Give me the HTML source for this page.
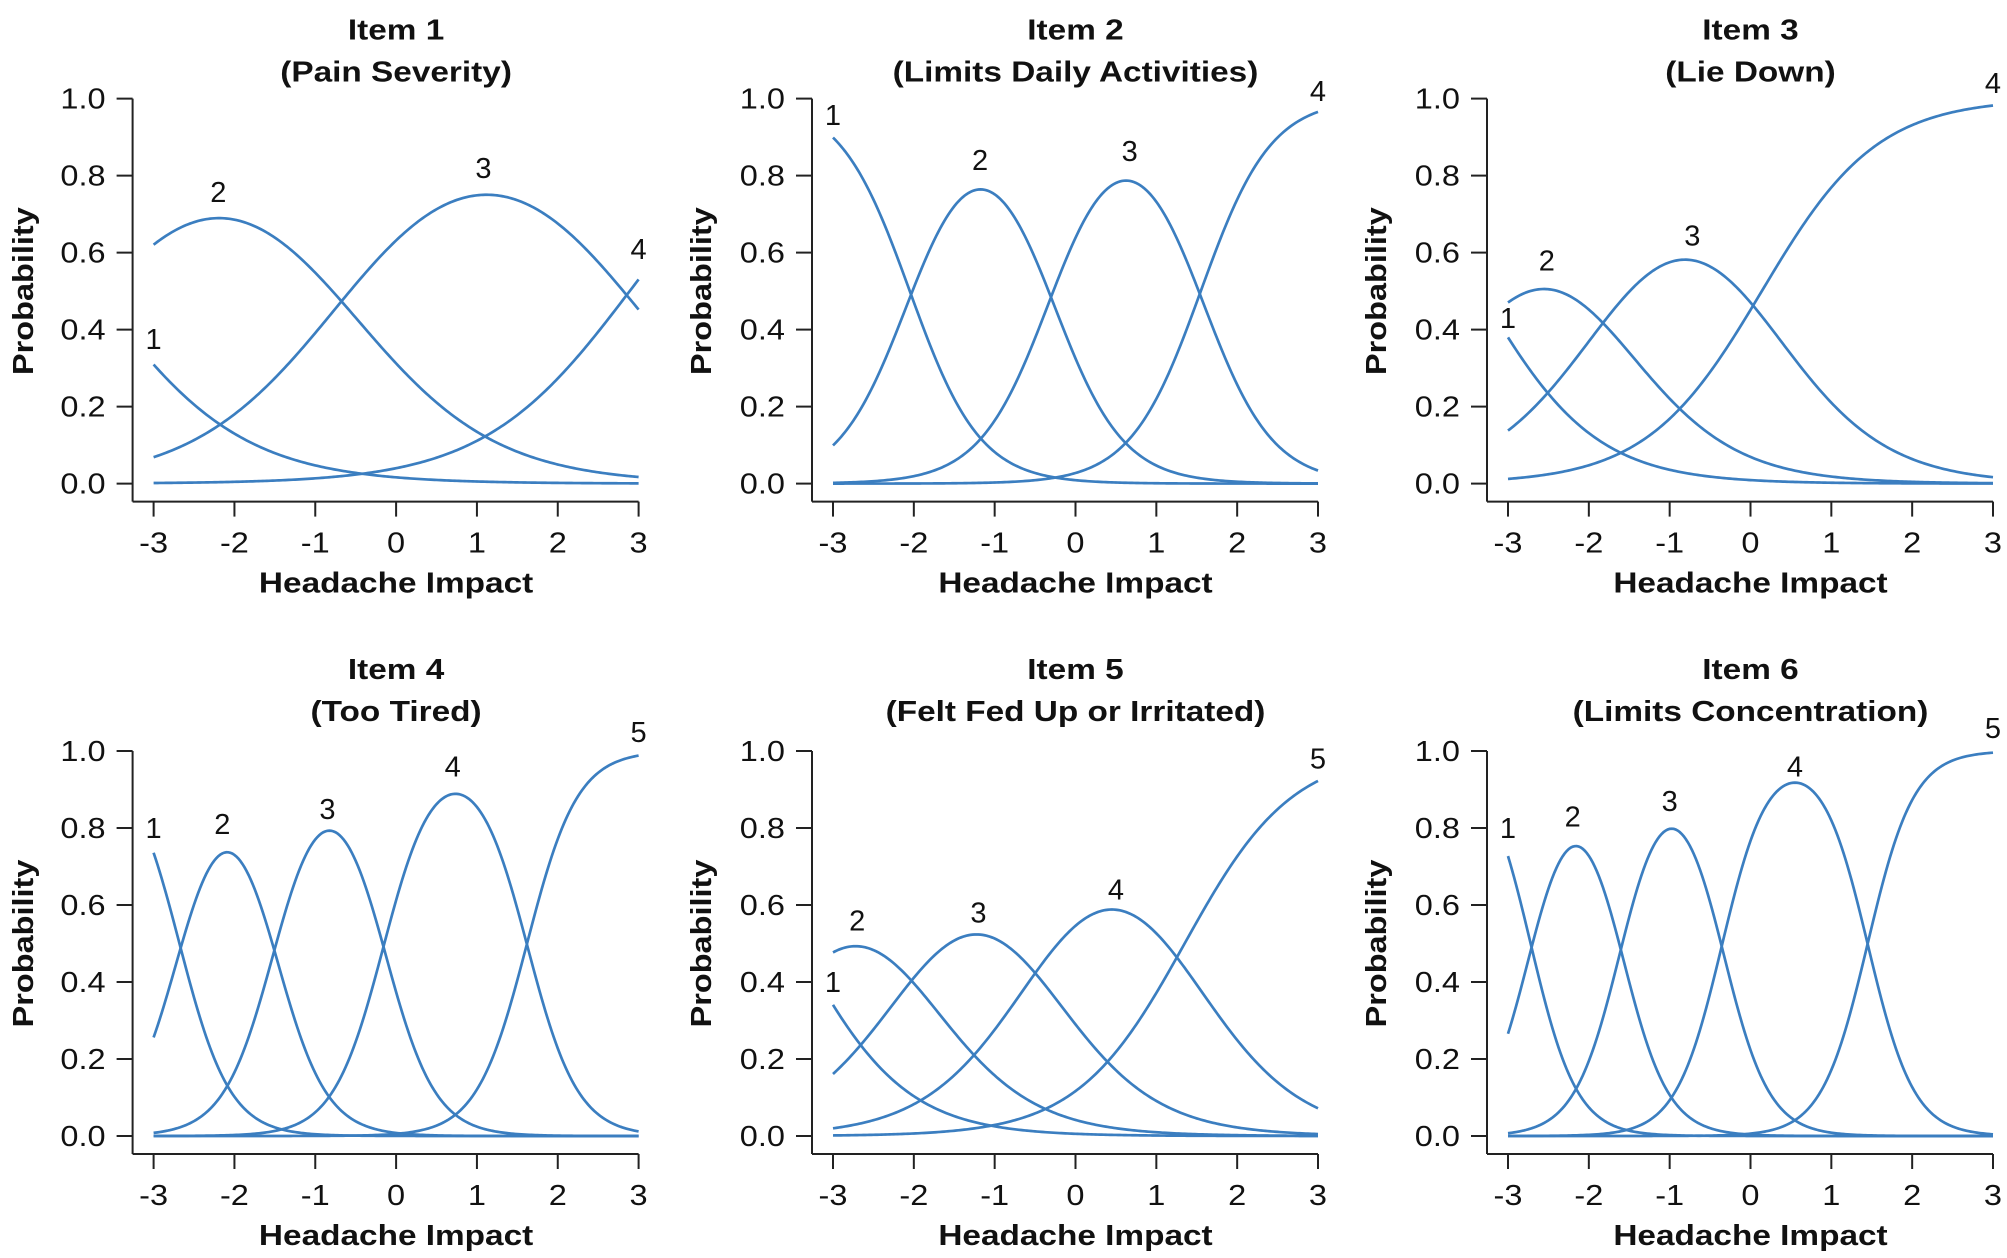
<!DOCTYPE html>
<html><head><meta charset="utf-8">
<style>
html,body{margin:0;padding:0;background:#fff;}
svg{display:block;font-family:"Liberation Sans",Arial,sans-serif;}
</style></head>
<body>
<svg id="chart" width="2007" height="1258" viewBox="0 0 2007 1258" xmlns="http://www.w3.org/2000/svg"></svg>
<script>
// Panel metadata
const itemTitles = ["Item 1","Item 2","Item 3","Item 4","Item 5","Item 6"];
const itemSubtitles = ["(Pain Severity)","(Limits Daily Activities)","(Lie Down)","(Too Tired)","(Felt Fed Up or Irritated)","(Limits Concentration)"];
// Graded response model parameters
const itemDiscrimination = [1.1, 2.3, 1.4, 3.2, 1.5, 3.5];
const item1Thresholds = [-3.73, -0.65, 2.89];
const item2Thresholds = [-2.05, -0.3, 1.55];
const item3Thresholds = [-3.35, -1.76, 0.14];
const item4Thresholds = [-2.68, -1.5, -0.15, 1.62];
const item5Thresholds = [-3.44, -2.0, -0.45, 1.35];
const item6Thresholds = [-2.72, -1.6, -0.35, 1.45];
// Category label positions [theta, probability]
const item1Labels = [[-3,0.375],[-2.2,0.757],[1.08,0.82],[3,0.61]];
const item2Labels = [[-3,0.957],[-1.18,0.84],[0.67,0.864],[3,1.02]];
const item3Labels = [[-3,0.43],[-2.52,0.58],[-0.72,0.645],[3,1.04]];
const item4Labels = [[-3,0.8],[-2.15,0.81],[-0.85,0.85],[0.7,0.96],[3,1.05]];
const item5Labels = [[-3,0.4],[-2.7,0.56],[-1.2,0.58],[0.5,0.64],[3,0.98]];
const item6Labels = [[-3,0.8],[-2.2,0.83],[-1.0,0.87],[0.55,0.96],[3,1.06]];
const xTicks = [-3,-2,-1,0,1,2,3];
const yTicks = [0,0.2,0.4,0.6,0.8,1.0];
const yTickLabels = ["0.0","0.2","0.4","0.6","0.8","1.0"];

const allThresholds = [item1Thresholds,item2Thresholds,item3Thresholds,item4Thresholds,item5Thresholds,item6Thresholds];
const allLabels = [item1Labels,item2Labels,item3Labels,item4Labels,item5Labels,item6Labels];

const NS = "http://www.w3.org/2000/svg";
const svg = document.getElementById("chart");
const colX0 = [153.6, 833, 1508];
const plotW = 485;
const rowY1 = [98.6, 751];
const titleOff = [[-59,-17],[-72,-30]];
const plotH = 385;
const lineColor = "#3b7ec0";
const stretch = [];

function mk(tag, attrs, parent){const e=document.createElementNS(NS,tag);for(const k in attrs)e.setAttribute(k,attrs[k]);parent.appendChild(e);return e;}
function sig(z){return 1/(1+Math.exp(-z));}
function catProb(theta,a,b,k){
  const ps=[1].concat(b.map(t=>sig(a*(theta-t)))).concat([0]);
  return ps[k]-ps[k+1];
}

for(let p=0;p<6;p++){
  const col=p%3,row=Math.floor(p/3);
  const x0=colX0[col],y1=rowY1[row],y0=y1+plotH;
  const xs=v=>x0+(v+3)/6*plotW;
  const ys=v=>y0-v*plotH;
  const g=mk("g",{},svg);
  
  
  const cx=x0+plotW/2;
  const t1=mk("text",{x:cx,y:y1+titleOff[row][0],"text-anchor":"middle","font-size":"29","font-weight":"bold",fill:"#111"},g);
  t1.textContent=itemTitles[p];
  
  
  stretch.push([t1,1.15]);
  const t2=mk("text",{x:cx,y:y1+titleOff[row][1],"text-anchor":"middle","font-size":"29","font-weight":"bold",fill:"#111"},g);
  t2.textContent=itemSubtitles[p];
  
  
  stretch.push([t2,1.15]);
  // y axis
  const ax=x0-21;
  const ya=mk("g",{},g);
  
  
  mk("line",{x1:ax,y1:ys(1),x2:ax,y2:y0+18,stroke:"#222","stroke-width":"2"},ya);
  yTicks.forEach((v,i)=>{
    mk("line",{x1:ax-16,y1:ys(v),x2:ax,y2:ys(v),stroke:"#222","stroke-width":"2"},ya);
    const tl=mk("text",{x:ax-27,y:ys(v)+10,"text-anchor":"end","font-size":"29",fill:"#111"},ya);
    tl.textContent=yTickLabels[i];
    
    
    stretch.push([tl,1.12]);
  });
  const ylx=[23,701,1376][col];
  const yl=mk("text",{x:ylx,y:(y1+y0)/2,"text-anchor":"middle","font-size":"29","font-weight":"bold",fill:"#111",transform:`rotate(-90 ${ylx} ${(y1+y0)/2}) translate(0 10)`},g);
  yl.textContent="Probability";
  
  
  stretch.push([yl,1.12]);
  // x axis
  const xa=mk("g",{},g);
  
  
  const by=y0+18;
  mk("line",{x1:ax,y1:by,x2:xs(3),y2:by,stroke:"#222","stroke-width":"2"},xa);
  xTicks.forEach(v=>{
    mk("line",{x1:xs(v),y1:by,x2:xs(v),y2:by+15,stroke:"#222","stroke-width":"2"},xa);
    const tl=mk("text",{x:xs(v),y:by+51,"text-anchor":"middle","font-size":"29",fill:"#111"},xa);
    tl.textContent=String(v);
    
    
    stretch.push([tl,1.12]);
  });
  const xl=mk("text",{x:cx,y:by+91,"text-anchor":"middle","font-size":"29","font-weight":"bold",fill:"#111"},g);
  xl.textContent="Headache Impact";
  
  
  stretch.push([xl,1.15]);
  // curves
  const a=itemDiscrimination[p],b=allThresholds[p];
  const nCat=b.length+1;
  for(let k=0;k<nCat;k++){
    let d="";
    for(let i=0;i<=240;i++){
      const th=-3+6*i/240;
      d+=(i?"L":"M")+xs(th).toFixed(2)+" "+ys(catProb(th,a,b,k)).toFixed(2);
    }
    const path=mk("path",{d:d,fill:"none",stroke:lineColor,"stroke-width":"2.7"},g);
    
    
    const lb=allLabels[p][k];
    const lt=mk("text",{x:xs(lb[0]),y:ys(lb[1])+10,"text-anchor":"middle","font-size":"29",fill:"#111"},g);
    lt.textContent=String(k+1);
    
    
  }
}
stretch.forEach(([el,f])=>{
  const w=el.getComputedTextLength();
  if(w>0){el.setAttribute('textLength',(w*f).toFixed(1));el.setAttribute('lengthAdjust','spacingAndGlyphs');}
});
</script>
</body></html>
